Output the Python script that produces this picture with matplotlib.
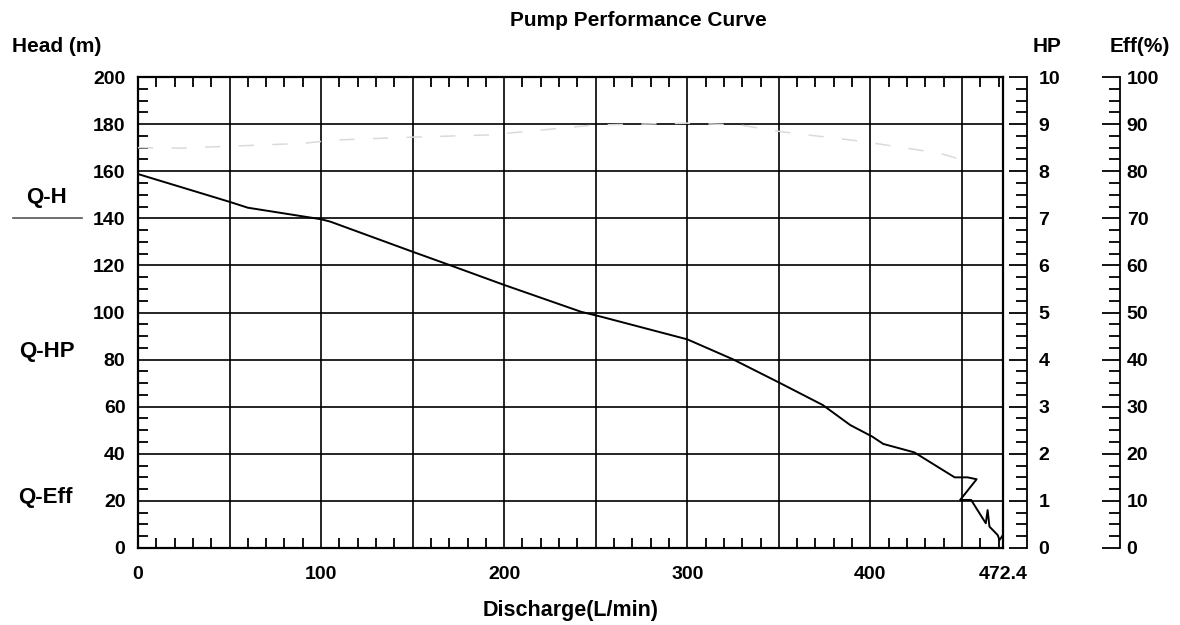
import numpy as np
import matplotlib.pyplot as plt
from matplotlib.ticker import MultipleLocator

plt.rcParams['font.family'] = ['Liberation Sans', 'DejaVu Sans']
plt.rcParams['font.weight'] = 'bold'

# Q-H curve
flow = [0, 50, 60, 100, 105, 150, 170, 200, 242, 253, 300, 325, 351, 374, 389,
        401, 407, 424, 446, 453, 458, 449, 455, 463, 464, 465, 469.5, 470.5, 472.4, 472.4]
head = [158.8, 147, 144.5, 139.6, 138.6, 125.8, 120.2, 111.7, 100.3, 98.2, 88.6, 80.1,
        69.9, 60.7, 52.2, 47.3, 44.2, 40.6, 30, 30, 29.2, 20.4, 20.4, 10.5, 16.1, 9.1,
        5.5, 3.4, 5.5, 1]

# faint efficiency trace
eff_flow = [0, 23, 90, 107, 147, 192, 249, 300, 329, 351, 396, 438, 456]
eff = [85, 84.9, 85.9, 86.6, 87.2, 87.7, 89.8, 90.2, 89.8, 88.4, 86.3, 83.8, 81.7]

x_ticks = [0, 50, 100, 150, 200, 250, 300, 350, 400, 450, 472.4]
x_labels = ['0', '', '100', '', '200', '', '300', '', '400', '', '472.4']
q_max = 472.4

fig = plt.figure(figsize=(11.8, 6.25), dpi=100)
ax = fig.add_axes([0.1169, 0.1232, 0.7331, 0.7536])

ax.set_xlim(0, q_max)
ax.set_ylim(0, 200)
ax.set_xticks(x_ticks)
ax.set_xticklabels(x_labels)
ax.set_yticks(np.arange(0, 201, 20))
ax.xaxis.set_minor_locator(MultipleLocator(10))
ax.yaxis.set_minor_locator(MultipleLocator(5))
ax.tick_params(which='both', direction='in', top=True, right=True, labelsize=14,
               width=1.3)
ax.tick_params(which='major', length=0)
ax.tick_params(which='minor', length=7)
ax.tick_params(axis='x', pad=13)
ax.tick_params(axis='y', pad=9)
ax.grid(True, which='major', color='black', linewidth=1.2)
for s in ax.spines.values():
    s.set_linewidth(1.6)

ax.plot(flow, head, color='black', linewidth=1.4)

# HP axis
ax2 = ax.twinx()
ax2.set_ylim(0, 10)
ax2.spines['right'].set_position(('axes', 1.028))
for k in ['left', 'top', 'bottom']:
    ax2.spines[k].set_visible(False)
ax2.spines['right'].set_linewidth(1.3)
ax2.yaxis.set_major_locator(MultipleLocator(1))
ax2.yaxis.set_minor_locator(MultipleLocator(0.25))
ax2.tick_params(which='both', direction='in', labelsize=14, width=1.3, pad=8)
ax2.tick_params(which='major', length=13)
ax2.tick_params(which='minor', length=8)

# Eff axis
ax3 = ax.twinx()
ax3.set_ylim(0, 100)
ax3.spines['right'].set_position(('axes', 1.135))
for k in ['left', 'top', 'bottom']:
    ax3.spines[k].set_visible(False)
ax3.spines['right'].set_linewidth(1.3)
ax3.yaxis.set_major_locator(MultipleLocator(10))
ax3.yaxis.set_minor_locator(MultipleLocator(2.5))
ax3.tick_params(which='both', direction='in', labelsize=14, width=1.3, pad=5)
ax3.tick_params(which='major', length=13)
ax3.tick_params(which='minor', length=8)
ax3.plot(eff_flow, eff, color='#dadada', linewidth=1.1, dashes=(10, 12))

# labels
fig.text(638 / 1180, 1 - 20 / 625, 'Pump Performance Curve', ha='center', va='center',
         fontsize=15)
fig.text(12 / 1180, 1 - 47 / 625, 'Head (m)', ha='left', va='center', fontsize=15)
fig.text(1047 / 1180, 1 - 47 / 625, 'HP', ha='center', va='center', fontsize=15)
fig.text(1140 / 1180, 1 - 47 / 625, 'Eff(%)', ha='center', va='center', fontsize=15)
ax.set_xlabel('Discharge(L/min)', fontsize=15.5, fontweight='bold', labelpad=12)

fig.text(47 / 1180, 1 - 198 / 625, 'Q-H', ha='center', va='center', fontsize=16)
fig.add_artist(plt.Line2D([13 / 1180, 82 / 1180], [1 - 218 / 625, 1 - 218 / 625],
                          color='#555555', linewidth=1.2))
fig.text(47 / 1180, 1 - 352 / 625, 'Q-HP', ha='center', va='center', fontsize=16)
fig.text(45 / 1180, 1 - 497 / 625, 'Q-Eff', ha='center', va='center', fontsize=16)

fig.savefig('out.png', dpi=100)
